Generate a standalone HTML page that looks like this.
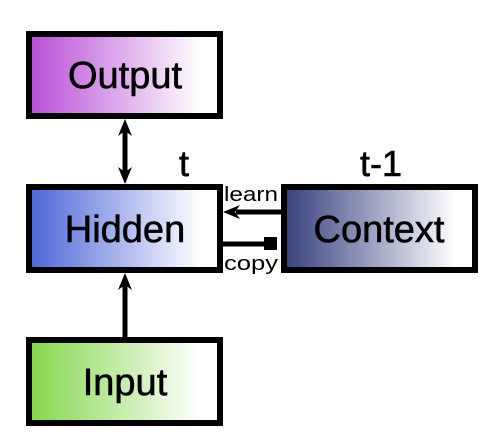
<!DOCTYPE html>
<html><head><style>
body{margin:0;background:#fff;width:503px;height:446px;overflow:hidden}
svg{display:block}
text{font-family:"Liberation Sans",Arial,sans-serif;fill:#000}
.b{stroke:#000;stroke-width:0.6}
</style></head><body>
<svg width="503" height="446" viewBox="0 0 503 446">
<defs>
<linearGradient id="gO"><stop offset="0" stop-color="#b84ed6"/><stop offset="0.9" stop-color="#fff"/></linearGradient>
<linearGradient id="gH"><stop offset="0" stop-color="#4d65d8"/><stop offset="0.9" stop-color="#fff"/></linearGradient>
<linearGradient id="gC"><stop offset="0" stop-color="#353f7c"/><stop offset="0.9" stop-color="#fff"/></linearGradient>
<linearGradient id="gI"><stop offset="0" stop-color="#84d64c"/><stop offset="0.9" stop-color="#fff"/></linearGradient>
</defs>
<rect x="29" y="34" width="191" height="82" fill="url(#gO)" stroke="#000" stroke-width="6"/>
<rect x="29" y="187" width="191" height="83" fill="url(#gH)" stroke="#000" stroke-width="6"/>
<rect x="284" y="187" width="191" height="83" fill="url(#gC)" stroke="#000" stroke-width="6"/>
<rect x="29" y="340" width="191" height="83" fill="url(#gI)" stroke="#000" stroke-width="6"/>
<text class="b" x="125" y="88" font-size="38" text-anchor="middle">Output</text>
<text class="b" x="125" y="242" font-size="38" text-anchor="middle">Hidden</text>
<text class="b" x="379" y="242" font-size="38" text-anchor="middle">Context</text>
<text class="b" x="125" y="395" font-size="38" text-anchor="middle">Input</text>
<line x1="125" y1="130" x2="125" y2="172" stroke="#000" stroke-width="5"/>
<polygon points="125,119 118,136 125,131 132,136" fill="#000"/>
<polygon points="125,184 118,167 125,172 132,167" fill="#000"/>
<line x1="125" y1="337" x2="125" y2="285" stroke="#000" stroke-width="5"/>
<polygon points="125,273 118,290 125,285 132,290" fill="#000"/>
<line x1="281" y1="212" x2="236" y2="212" stroke="#000" stroke-width="5"/>
<polygon points="223,212 240,205 235,212 240,219" fill="#000"/>
<line x1="223" y1="244" x2="266" y2="244" stroke="#000" stroke-width="5"/>
<rect x="264" y="237" width="13" height="13" fill="#000"/>
<text class="b" x="184" y="176" font-size="36" text-anchor="middle">t</text>
<text class="b" x="381" y="176" font-size="36" text-anchor="middle">t-1</text>
<text x="224" y="201" font-size="20" textLength="54" lengthAdjust="spacingAndGlyphs">learn</text>
<text x="224" y="270" font-size="20" textLength="54" lengthAdjust="spacingAndGlyphs">copy</text>
</svg>
</body></html>
